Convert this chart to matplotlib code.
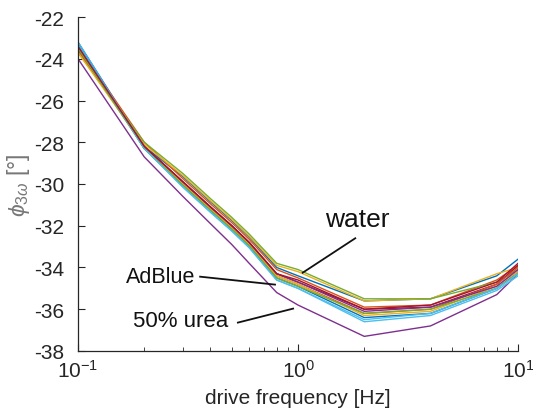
import numpy as np
import matplotlib
matplotlib.use("Agg")
import matplotlib.pyplot as plt

plt.rcParams['font.family'] = ['Liberation Sans', 'DejaVu Sans']
plt.rcParams['mathtext.fontset'] = 'custom'
plt.rcParams['mathtext.rm'] = 'Liberation Sans'
plt.rcParams['mathtext.it'] = 'Liberation Sans:italic'

freq = [0.1, 0.2, 0.3, 0.4, 0.5, 0.6, 0.8, 1, 2, 4, 8, 10]

series = [
    [-23.2, -28.2, -29.65, -30.85, -31.75, -32.55, -34.0, -34.4, -35.6, -35.5, -34.4, -33.6],
    [-23.4, -28.0, -29.75, -30.95, -31.85, -32.65, -34.1, -34.5, -35.9, -35.8, -34.6, -33.9],
    [-23.5, -28.1, -29.6, -30.8, -31.7, -32.5, -33.9, -34.2, -35.6, -35.5, -34.3, -34.0],
    [-24.0, -28.7, -30.6, -31.9, -32.9, -33.8, -35.2, -35.8, -37.3, -36.8, -35.3, -34.3],
    [-23.7, -28.0, -29.5, -30.7, -31.6, -32.4, -33.8, -34.1, -35.5, -35.5, -34.7, -34.1],
    [-23.2, -28.3, -30.15, -31.35, -32.25, -33.05, -34.6, -35.0, -36.6, -36.3, -35.1, -34.4],
    [-23.5, -28.2, -29.9, -31.1, -32.0, -32.8, -34.3, -34.7, -36.0, -35.9, -34.8, -33.9],
    [-23.3, -28.3, -30.05, -31.25, -32.15, -32.95, -34.5, -34.9, -36.4, -36.2, -35.0, -34.2],
    [-23.6, -28.2, -30.0, -31.2, -32.1, -32.9, -34.4, -34.8, -36.2, -36.0, -34.8, -34.0],
    [-23.7, -28.2, -30.0, -31.2, -32.1, -32.9, -34.4, -34.8, -36.3, -36.1, -34.9, -34.2],
    [-23.5, -28.2, -29.9, -31.1, -32.0, -32.8, -34.3, -34.7, -36.1, -35.9, -34.9, -34.1],
    [-23.5, -28.3, -30.05, -31.25, -32.15, -32.95, -34.5, -34.9, -36.2, -36.0, -35.0, -34.3],
    [-23.3, -28.3, -30.15, -31.35, -32.25, -33.05, -34.6, -35.0, -36.5, -36.2, -35.0, -34.3],
    [-23.4, -28.2, -29.9, -31.1, -32.0, -32.8, -34.3, -34.6, -36.0, -35.8, -34.7, -33.8],
]

colors = ['#0072BD', '#D95319', '#EDB120', '#7E2F8E', '#77AC30', '#4DBEEE', '#A2142F']

yticks = [-38, -36, -34, -32, -30, -28, -26, -24, -22]

fig = plt.figure(figsize=(5.33, 4.14), dpi=100)
ax = fig.add_axes([0.1463, 0.1498, 0.8257, 0.8067])

for i, s in enumerate(series):
    ax.plot(freq, s, color=colors[i % 7], lw=1.0)

ax.set_xscale('log')
ax.set_xlim(0.1, 10)
ax.set_ylim(-38, -22)
ax.set_yticks(yticks)
ax.set_yticklabels([str(v) for v in yticks])

for sp in ['top', 'right']:
    ax.spines[sp].set_visible(False)
for sp in ['left', 'bottom']:
    ax.spines[sp].set_color('#262626')
    ax.spines[sp].set_linewidth(0.9)

ax.tick_params(axis='both', which='both', direction='in', colors='#262626',
               labelsize=15, labelcolor='#262626')
ax.tick_params(axis='both', which='major', length=5)
ax.tick_params(axis='x', which='minor', length=3)
ax.tick_params(axis='x', which='major', pad=6)
ax.tick_params(axis='y', which='major', pad=10)

ax.set_xlabel('drive frequency [Hz]', fontsize=15, color='#262626', labelpad=5)
ax.set_ylabel(r'$\phi_{3\omega}$ [°]', fontsize=16.5, color='#777777', labelpad=1)

# annotations
ax.text(1.85, -31.7, 'water', fontsize=19, ha='center', va='center', color='#111111')
ax.plot([1.82, 1.05], [-32.6, -34.25], color='#111111', lw=1.3)

ax.text(0.34, -34.44, 'AdBlue', fontsize=15.5, ha='right', va='center', color='#111111')
ax.plot([0.359, 0.786], [-34.44, -34.82], color='#111111', lw=1.3)

ax.text(0.48, -36.55, '50% urea', fontsize=16, ha='right', va='center', color='#111111')
ax.plot([0.533, 0.95], [-36.64, -35.97], color='#111111', lw=1.3)

fig.savefig('out.png', dpi=100)
